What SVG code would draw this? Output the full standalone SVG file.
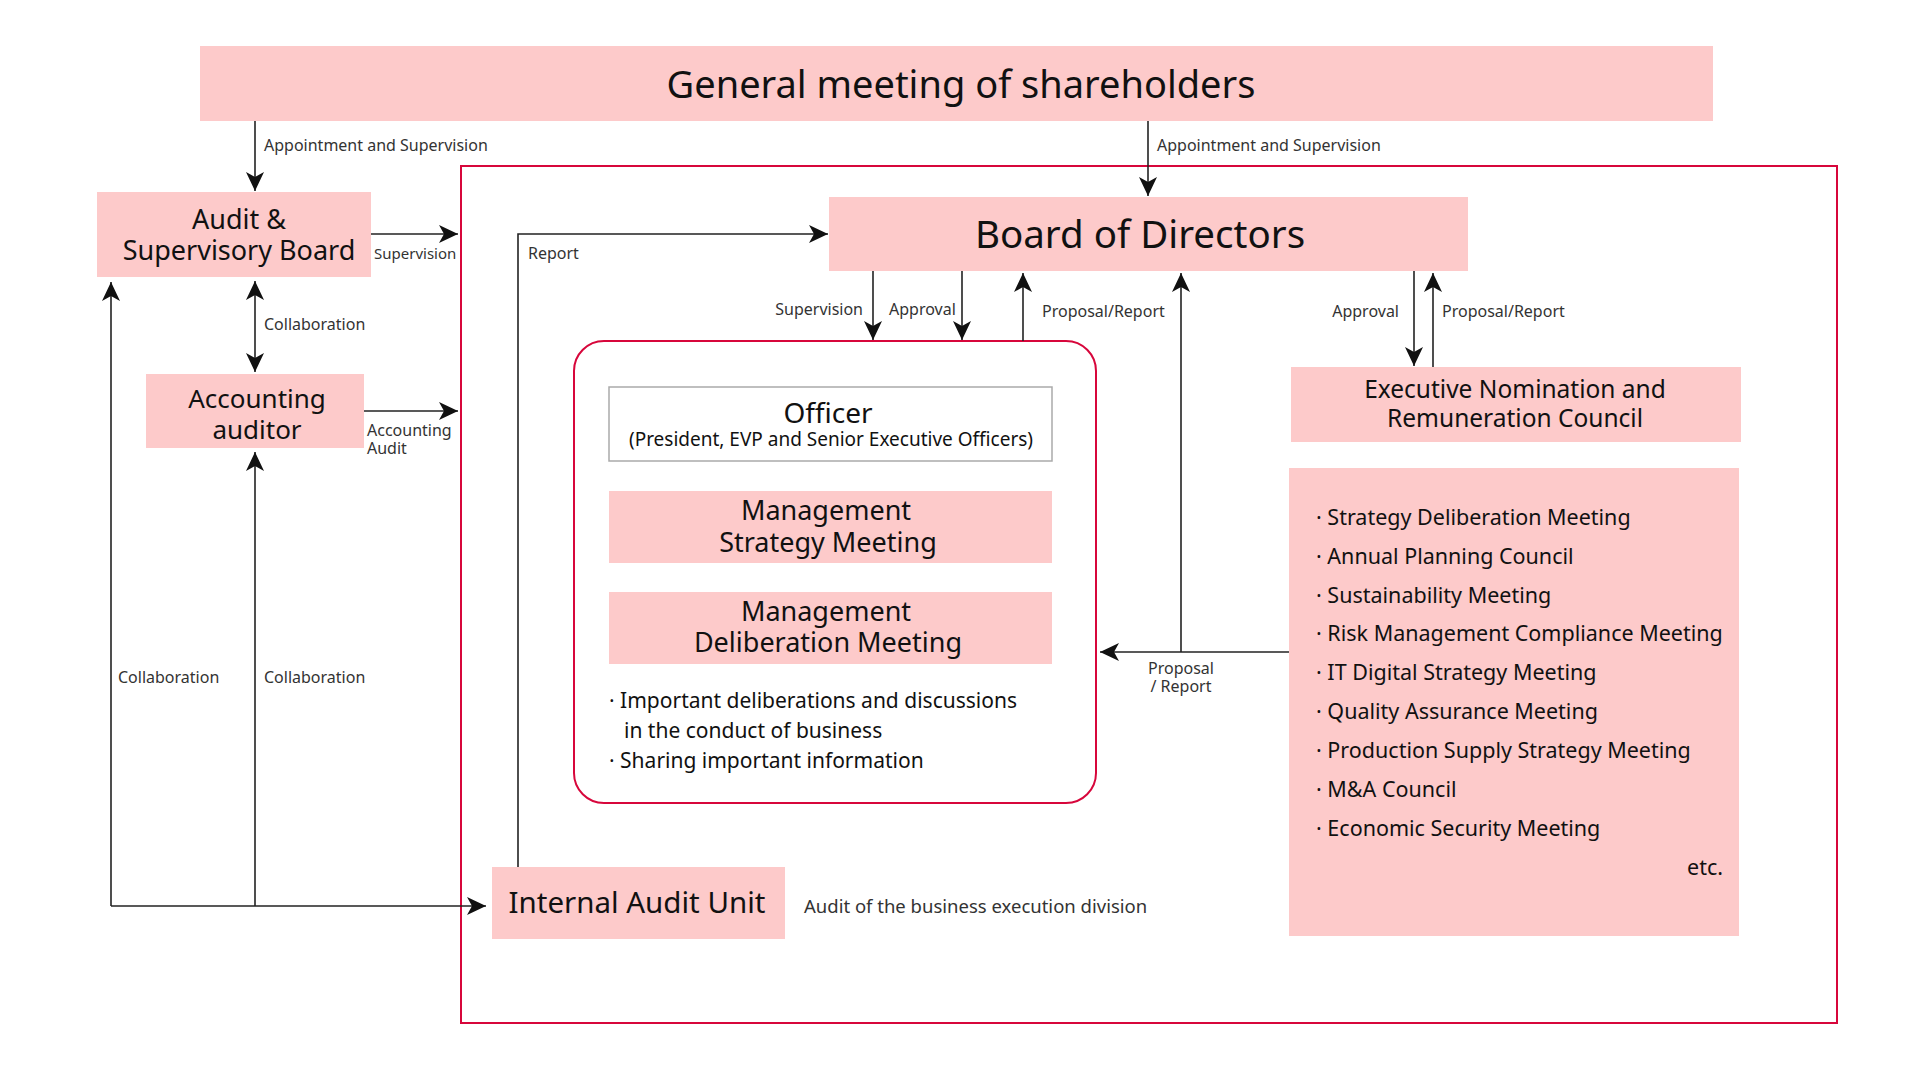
<svg xmlns="http://www.w3.org/2000/svg" width="1920" height="1080" viewBox="0 0 1920 1080">
<style>
  .box { fill: #fdcaca; }
  .t { font-family: "Noto Sans", "Open Sans", sans-serif; fill: #111; }
  .lbl { font-family: "Noto Sans", "Open Sans", sans-serif; fill: #333; font-size: 16px; }
  .ln { fill: none; stroke: #222; stroke-width: 1.6; }
  .red { fill: none; stroke: #d7063b; stroke-width: 2; }
</style>
<defs>
  <marker id="ah" markerUnits="userSpaceOnUse" markerWidth="20" markerHeight="20" viewBox="0 0 20 20" refX="19" refY="10" orient="auto-start-reverse">
    <path d="M0,1 L19,10 L0,19 L5,10 z" fill="#111"/>
  </marker>
</defs>
<rect width="1920" height="1080" fill="#fff"/>

<g id="frame">
  <rect class="red" x="461" y="166" width="1376" height="857"/>
</g>

<g id="general-meeting">
  <rect class="box" x="200" y="46" width="1513" height="75"/>
  <text class="t" x="961" y="98" font-size="38" text-anchor="middle">General meeting of shareholders</text>
</g>

<g id="audit-board">
  <rect class="box" x="97" y="192" width="274" height="85"/>
  <text class="t" x="239" y="229" font-size="27" text-anchor="middle">Audit &amp;</text>
  <text class="t" x="239" y="260" font-size="27" text-anchor="middle">Supervisory Board</text>
</g>

<g id="accounting-auditor">
  <rect class="box" x="146" y="374" width="218" height="74"/>
  <text class="t" x="257" y="408" font-size="26" text-anchor="middle">Accounting</text>
  <text class="t" x="257" y="439" font-size="26" text-anchor="middle">auditor</text>
</g>

<g id="board-of-directors">
  <rect class="box" x="829" y="197" width="639" height="74"/>
  <text class="t" x="1140" y="248" font-size="38.5" text-anchor="middle">Board of Directors</text>
</g>

<g id="executive-council">
  <rect class="red" x="574" y="341" width="522" height="462" rx="30" ry="30"/>
  <rect x="609" y="387" width="443" height="74" fill="#fff" stroke="#aaa" stroke-width="1.5"/>
  <text class="t" x="828" y="423" font-size="28" text-anchor="middle">Officer</text>
  <text class="t" x="831" y="446" font-size="19" text-anchor="middle">(President, EVP and Senior Executive Officers)</text>
  <rect class="box" x="609" y="491" width="443" height="72"/>
  <text class="t" x="826" y="520" font-size="27" text-anchor="middle">Management</text>
  <text class="t" x="828" y="552" font-size="27" text-anchor="middle">Strategy Meeting</text>
  <rect class="box" x="609" y="592" width="443" height="72"/>
  <text class="t" x="826" y="621" font-size="27" text-anchor="middle">Management</text>
  <text class="t" x="828" y="652" font-size="27" text-anchor="middle">Deliberation Meeting</text>
  <text class="t" x="609" y="708" font-size="21" fill="#222">· Important deliberations and discussions</text>
  <text class="t" x="624" y="738" font-size="21" fill="#222">in the conduct of business</text>
  <text class="t" x="609" y="768" font-size="21" fill="#222">· Sharing important information</text>
</g>

<g id="nomination-council">
  <rect class="box" x="1291" y="367" width="450" height="75"/>
  <text class="t" x="1515" y="398" font-size="24.5" text-anchor="middle">Executive Nomination and</text>
  <text class="t" x="1515" y="427" font-size="24.5" text-anchor="middle">Remuneration Council</text>
</g>

<g id="meetings">
  <rect class="box" x="1289" y="468" width="450" height="468"/>
  <g class="t" font-size="21.5" fill="#222">
    <text x="1316" y="525">· Strategy Deliberation Meeting</text>
    <text x="1316" y="564">· Annual Planning Council</text>
    <text x="1316" y="603">· Sustainability Meeting</text>
    <text x="1316" y="641">· Risk Management Compliance Meeting</text>
    <text x="1316" y="680">· IT Digital Strategy Meeting</text>
    <text x="1316" y="719">· Quality Assurance Meeting</text>
    <text x="1316" y="758">· Production Supply Strategy Meeting</text>
    <text x="1316" y="797">· M&amp;A Council</text>
    <text x="1316" y="836">· Economic Security Meeting</text>
    <text x="1723" y="875" text-anchor="end">etc.</text>
  </g>
</g>

<g id="internal-audit">
  <rect class="box" x="492" y="867" width="293" height="72"/>
  <text class="t" x="637" y="913" font-size="29.5" text-anchor="middle">Internal Audit Unit</text>
</g>

<g id="connectors">
  <line class="ln" x1="255" y1="121" x2="255" y2="191" marker-end="url(#ah)"/>
  <line class="ln" x1="1148" y1="121" x2="1148" y2="196" marker-end="url(#ah)"/>
  <line class="ln" x1="371" y1="234" x2="458" y2="234" marker-end="url(#ah)"/>
  <line class="ln" x1="364" y1="411" x2="458" y2="411" marker-end="url(#ah)"/>
  <line class="ln" x1="255" y1="281" x2="255" y2="372" marker-start="url(#ah)" marker-end="url(#ah)"/>
  <polyline class="ln" points="111,906 111,282" marker-end="url(#ah)"/>
  <line class="ln" x1="111" y1="906" x2="486" y2="906" marker-end="url(#ah)"/>
  <line class="ln" x1="255" y1="906" x2="255" y2="452" marker-end="url(#ah)"/>
  <polyline class="ln" points="518,867 518,234 828,234" marker-end="url(#ah)"/>
  <line class="ln" x1="873" y1="271" x2="873" y2="340" marker-end="url(#ah)"/>
  <line class="ln" x1="962" y1="271" x2="962" y2="340" marker-end="url(#ah)"/>
  <line class="ln" x1="1023" y1="341" x2="1023" y2="273" marker-end="url(#ah)"/>
  <line class="ln" x1="1181" y1="652" x2="1181" y2="273" marker-end="url(#ah)"/>
  <line class="ln" x1="1289" y1="652" x2="1100" y2="652" marker-end="url(#ah)"/>
  <line class="ln" x1="1414" y1="271" x2="1414" y2="366" marker-end="url(#ah)"/>
  <line class="ln" x1="1433" y1="367" x2="1433" y2="273" marker-end="url(#ah)"/>

  <text class="lbl" x="264" y="151">Appointment and Supervision</text>
  <text class="lbl" x="1157" y="151">Appointment and Supervision</text>
  <text class="lbl" x="374" y="259" style="font-size:15px">Supervision</text>
  <text class="lbl" x="528" y="259">Report</text>
  <text class="lbl" x="264" y="330">Collaboration</text>
  <text class="lbl" x="367" y="436">Accounting</text>
  <text class="lbl" x="367" y="454">Audit</text>
  <text class="lbl" x="118" y="683">Collaboration</text>
  <text class="lbl" x="264" y="683">Collaboration</text>
  <text class="lbl" x="863" y="315" text-anchor="end">Supervision</text>
  <text class="lbl" x="889" y="315">Approval</text>
  <text class="lbl" x="1042" y="317">Proposal/Report</text>
  <text class="lbl" x="1399" y="317" text-anchor="end">Approval</text>
  <text class="lbl" x="1442" y="317">Proposal/Report</text>
  <text class="lbl" x="1181" y="674" text-anchor="middle">Proposal</text>
  <text class="lbl" x="1181" y="692" text-anchor="middle">/ Report</text>
  <text class="lbl" x="804" y="913" style="font-size:18.5px">Audit of the business execution division</text>
</g>
</svg>
